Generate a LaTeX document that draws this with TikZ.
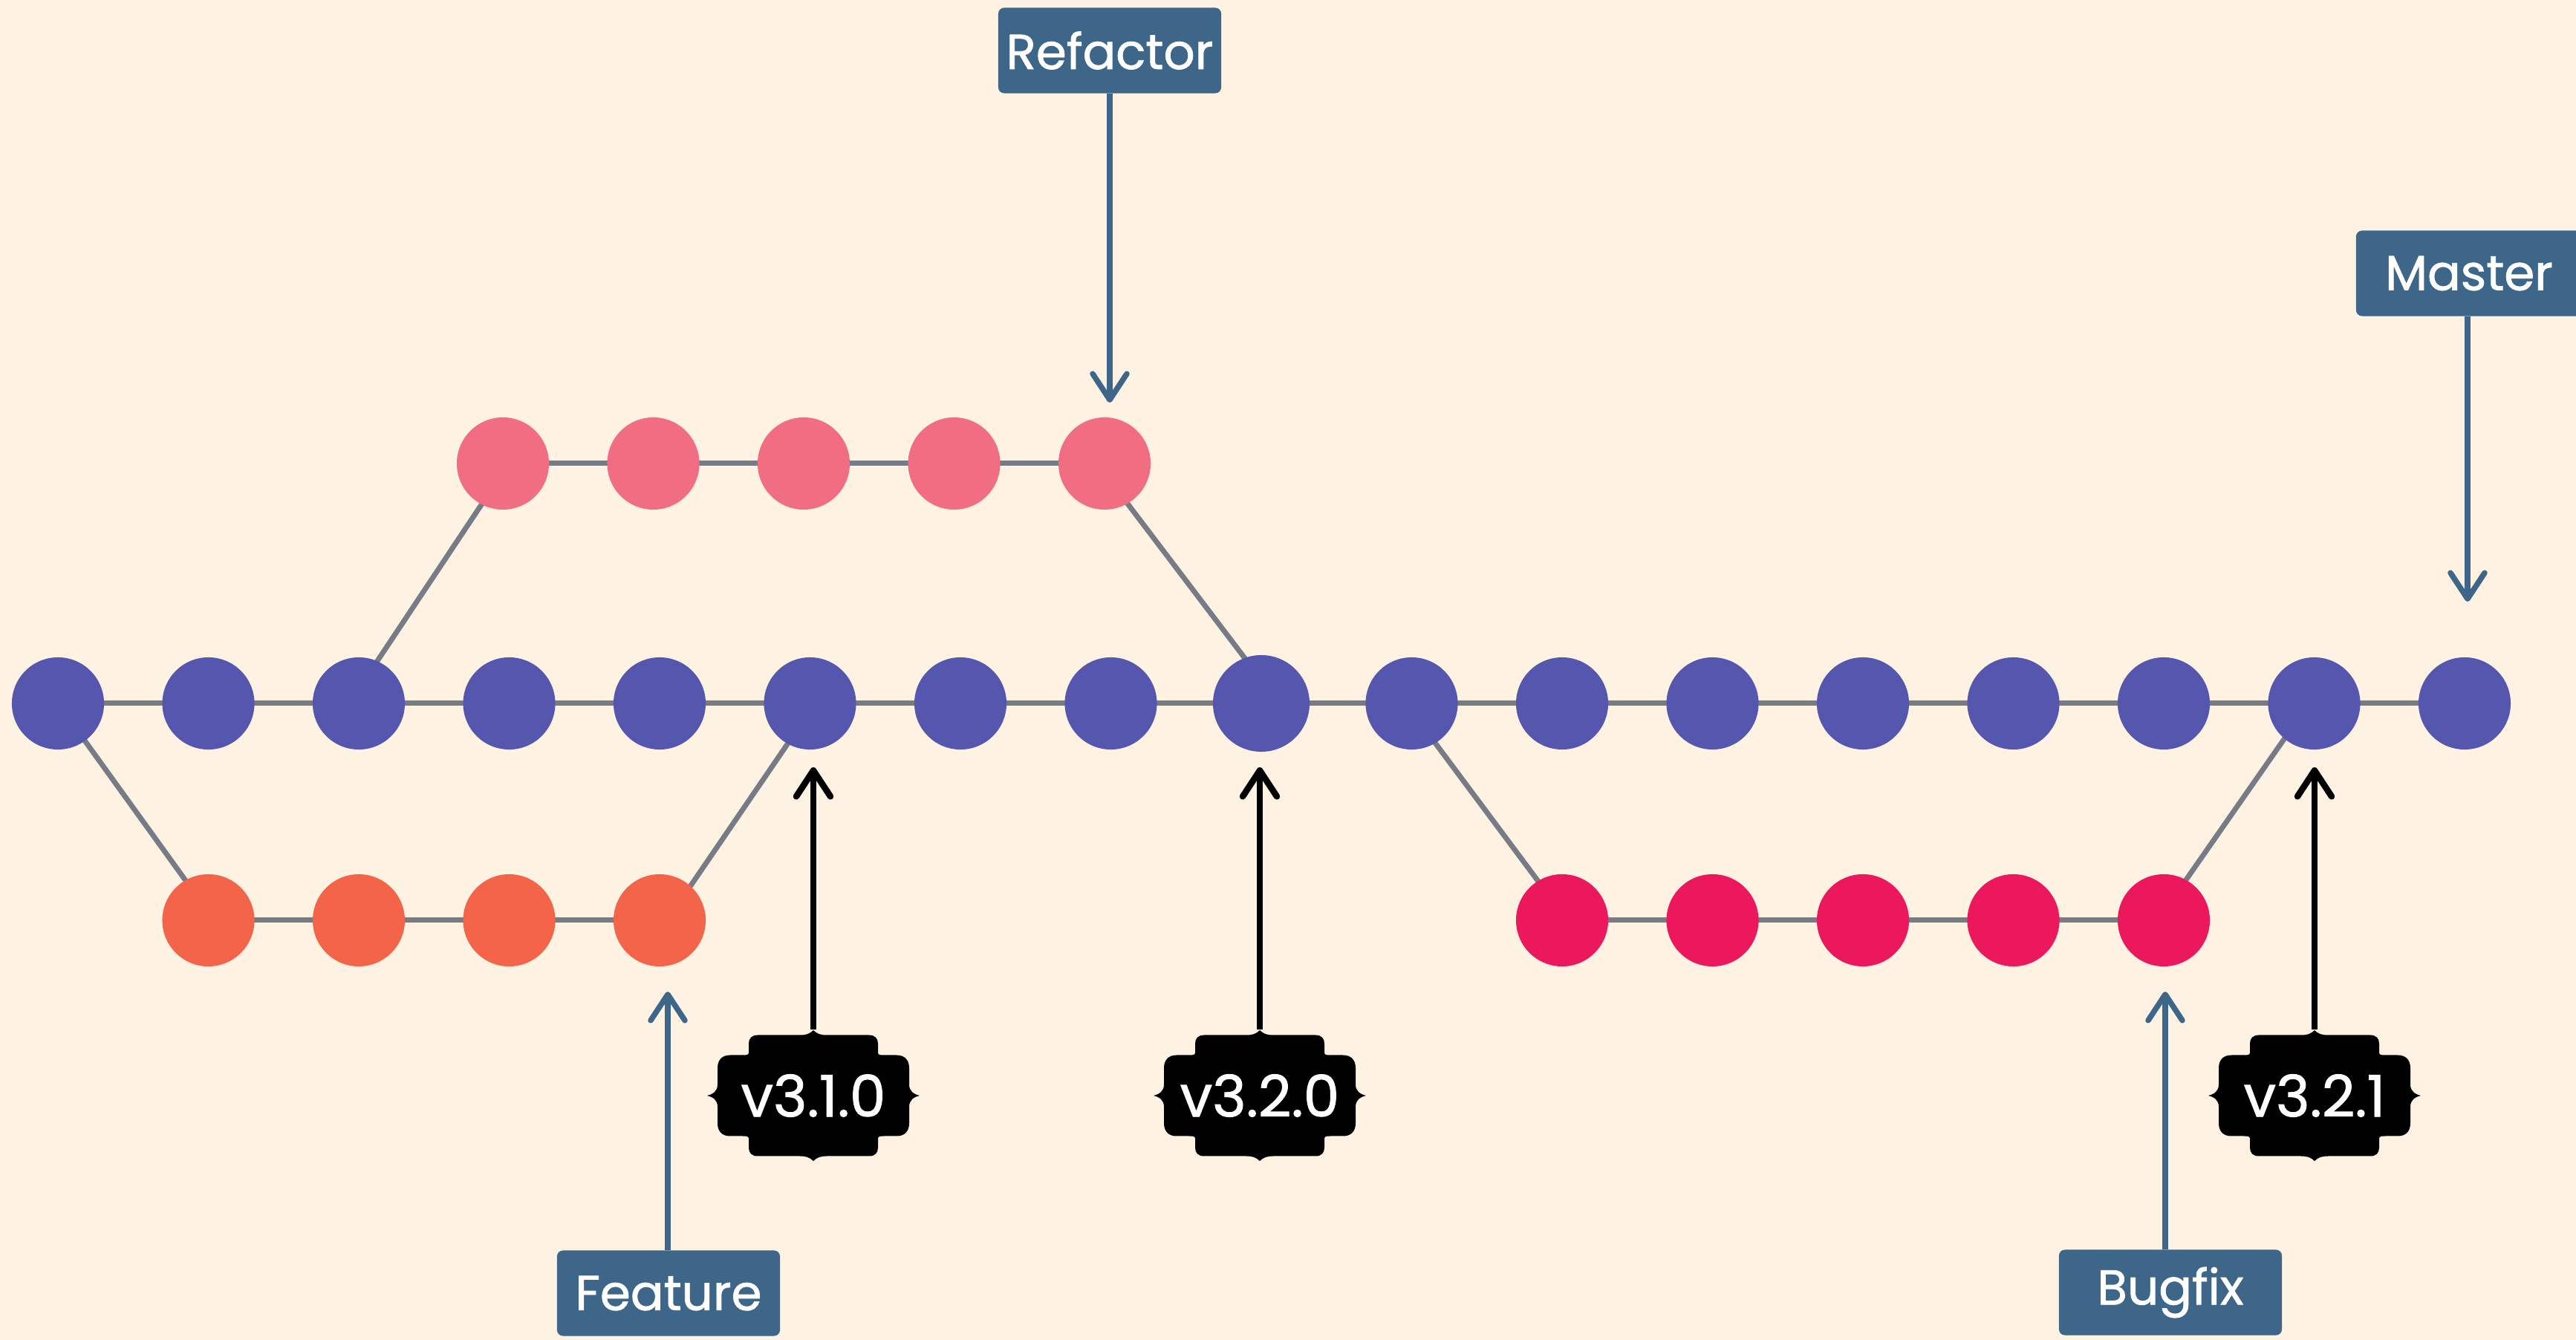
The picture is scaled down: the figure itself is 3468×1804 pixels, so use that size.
\documentclass[tikz,border=0pt]{standalone}
\usepackage{fontspec}
\setmainfont{Poppins}[FakeBold=1.2]
\usetikzlibrary{arrows.meta}

\definecolor{paper}{HTML}{FEF3E2}
\definecolor{mainc}{HTML}{5457AD}
\definecolor{refc}{HTML}{F06D82}
\definecolor{featc}{HTML}{F46449}
\definecolor{bugc}{HTML}{EC185D}
\definecolor{linkc}{HTML}{777B86}
\definecolor{labc}{HTML}{3D6689}

\pgfdeclarelayer{bg}
\pgfdeclarelayer{back}
\pgfsetlayers{bg,back,main}

% decorative tag outline, centred on the origin (y grows downwards)
\newcommand\plaquepath{%
  (0,-88) .. controls (5,-83) and (10,-81.5) .. (18,-81.5)
  -- (75,-81.5) .. controls (83,-81.5) and (87,-77) .. (87,-70)
  -- (87,-57) .. controls (87,-55) and (89,-54.5) .. (95,-54.5)
  -- (112,-54.5) .. controls (123,-54.5) and (129,-48) .. (129,-37)
  -- (129,-15) .. controls (129,-6) and (135,-2) .. (143,0)
  .. controls (135,2) and (129,6) .. (129,15)
  -- (129,37) .. controls (129,48) and (123,54.5) .. (112,54.5)
  -- (95,54.5) .. controls (89,54.5) and (87,55) .. (87,57)
  -- (87,70) .. controls (87,77) and (83,81.5) .. (75,81.5)
  -- (18,81.5) .. controls (10,81.5) and (5,83) .. (0,88)
  .. controls (-5,83) and (-10,81.5) .. (-18,81.5)
  -- (-75,81.5) .. controls (-83,81.5) and (-87,77) .. (-87,70)
  -- (-87,57) .. controls (-87,55) and (-89,54.5) .. (-95,54.5)
  -- (-112,54.5) .. controls (-123,54.5) and (-129,48) .. (-129,37)
  -- (-129,15) .. controls (-129,6) and (-135,2) .. (-143,0)
  .. controls (-135,-2) and (-129,-6) .. (-129,-15)
  -- (-129,-37) .. controls (-129,-48) and (-123,-54.5) .. (-112,-54.5)
  -- (-95,-54.5) .. controls (-89,-54.5) and (-87,-55) .. (-87,-57)
  -- (-87,-70) .. controls (-87,-77) and (-83,-81.5) .. (-75,-81.5)
  -- (-18,-81.5) .. controls (-10,-81.5) and (-5,-83) .. (0,-88)
  -- cycle}

\begin{document}
\begin{tikzpicture}[x=0.01cm,y=-0.01cm,
  commit/.style={circle,inner sep=0pt,minimum size=1.24cm},
  link/.style={draw=linkc,line width=0.07cm},
  label/.style={fill=labc,text=white,rounded corners=0.08cm,
    minimum width=3cm,minimum height=1.15cm,inner sep=0pt,
    font=\fontsize{18.8}{18.8}\selectfont},
  pointer/.style={draw=labc,line width=0.075cm,
    -{Straight Barb[length=0.35cm,width=0.46cm,round]}},
  tagnode/.style={inner sep=0pt,minimum width=2.86cm,minimum height=1.76cm,
    text=white,font=\fontsize{22}{22}\selectfont},
  tagpointer/.style={draw=black,line width=0.085cm,
    -{Straight Barb[length=0.35cm,width=0.46cm,round]}},
]
\begin{pgfonlayer}{bg}
  \fill[paper] (0,0) rectangle (3468,1804);
\end{pgfonlayer}
\useasboundingbox (0,0) rectangle (3468,1804);

% master line
\foreach \i in {0,...,16}
  \node[commit,fill=mainc] (m\i) at ({78+202.5*\i},947) {};
\node[commit,fill=mainc,minimum size=1.3cm] at (m8) {};
% refactor branch
\foreach \i in {0,...,4}
  \node[commit,fill=refc] (r\i) at ({677+202.5*\i},624) {};
% feature branch
\foreach \i in {0,...,3}
  \node[commit,fill=featc] (f\i) at ({280.5+202.5*\i},1239) {};
% bugfix branch
\foreach \i in {0,...,4}
  \node[commit,fill=bugc] (b\i) at ({2103+202.5*\i},1239) {};

\begin{pgfonlayer}{back}
  \foreach \i [evaluate=\i as \j using int(\i+1)] in {0,...,15}
    \draw[link] (m\i.center) -- (m\j.center);
  \foreach \i [evaluate=\i as \j using int(\i+1)] in {0,...,3}
    \draw[link] (r\i.center) -- (r\j.center);
  \foreach \i [evaluate=\i as \j using int(\i+1)] in {0,...,2}
    \draw[link] (f\i.center) -- (f\j.center);
  \foreach \i [evaluate=\i as \j using int(\i+1)] in {0,...,3}
    \draw[link] (b\i.center) -- (b\j.center);
  % branch and merge edges
  \draw[link] (m0.center) -- ([xshift=0.08cm]f0.center);
  \draw[link] ([xshift=0.1cm]f3.center) -- ([xshift=0.07cm]m5.center);
  \draw[link] ([xshift=-0.13cm]m2.center) -- ([xshift=0.08cm]r0.center);
  \draw[link] ([xshift=-0.1cm]r4.center) -- ([xshift=0.24cm]m8.center);
  \draw[link] ([xshift=-0.08cm]m9.center) -- ([xshift=0.07cm]b0.center);
  \draw[link] ([xshift=-0.08cm]b4.center) -- ([xshift=-0.07cm]m15.center);
\end{pgfonlayer}

% branch labels
\node[label] (refactor) at (1494,68) {Refactor};
\node[label,minimum width=3.04cm] (master) at (3324,368) {Master};
\node[label] (feature) at (900,1741) {Feature};
\node[label] (bugfix) at (2922,1740) {Bugfix};

\coordinate (refactor tip) at (1494,542);
\coordinate (master tip) at (3322,810);
\coordinate (feature tip) at (899,1335);
\coordinate (bugfix tip) at (2915,1335);

\draw[pointer] (refactor tip |- refactor.south) -- (refactor tip);
\draw[pointer] (master tip |- master.south) -- (master tip);
\draw[pointer] (feature tip |- feature.north) -- (feature tip);
\draw[pointer] (bugfix tip |- bugfix.north) -- (bugfix tip);

% release tags
\node[tagnode] (t310) at (1095,1475) {v3.1.0};
\node[tagnode] (t320) at (1696,1475) {v3.2.0};
\node[tagnode] (t321) at (3116,1475) {v3.2.1};

\begin{pgfonlayer}{back}
  \foreach \t in {t310,t320,t321}
    \fill[black,shift={(\t.center)}] \plaquepath;
\end{pgfonlayer}

\coordinate (t310 tip) at (1095,1033);
\coordinate (t320 tip) at (1696,1033);
\coordinate (t321 tip) at (3116,1033);

\draw[tagpointer] (t310.north) -- (t310 tip);
\draw[tagpointer] (t320.north) -- (t320 tip);
\draw[tagpointer] (t321.north) -- (t321 tip);
\end{tikzpicture}
\end{document}
